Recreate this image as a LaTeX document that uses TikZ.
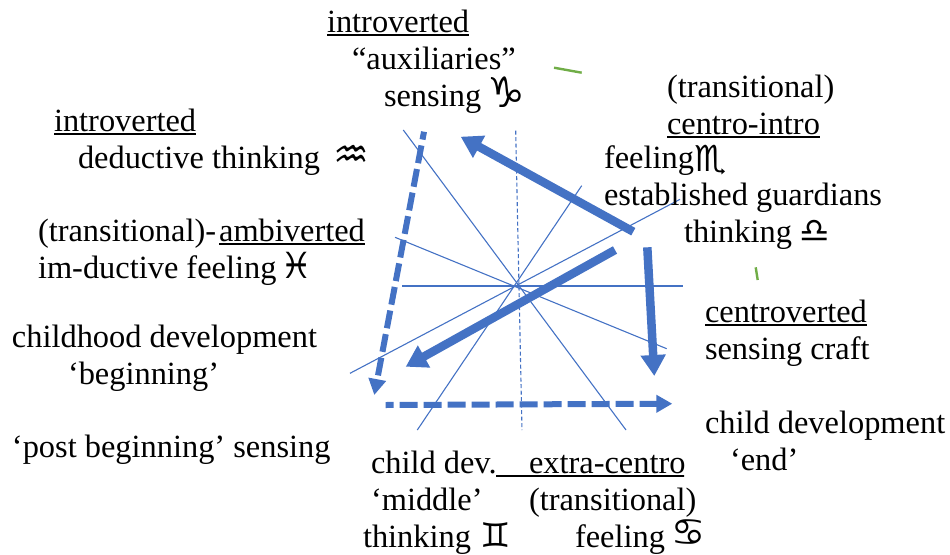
\documentclass[tikz,border=0pt]{standalone}
\usepackage{fontspec}
\setmainfont{Liberation Serif}
\newfontfamily\zodiac{DejaVu Sans}
\usetikzlibrary{arrows.meta}
\definecolor{wheel}{HTML}{4472C4}
\definecolor{tick}{HTML}{70AD47}
\newcommand\ulx[1]{\setbox0\hbox{#1}\rlap{\rule[-3.6pt]{\wd0}{1.8pt}}\box0}
\newcommand\zs[3]{{\zodiac\fontsize{#1}{#1}\selectfont\raisebox{#2pt}{#3}}}
\tikzset{
  lbl/.style={anchor=base west,inner sep=0pt,outer sep=0pt,font=\fontsize{32.4}{38}\selectfont},
  spoke/.style={draw=wheel,line width=1.1pt},
  spokedash/.style={spoke,dash pattern=on 4pt off 2.5pt},
  solidarrow/.style={draw=wheel,line width=8.5pt,-{Triangle[length=21pt,width=24pt]}},
  dasharrow/.style={draw=wheel,line width=6pt,dash pattern=on 18pt off 6pt,dash phase=10pt,-{Triangle[length=16pt,width=17pt]}},
  ticks/.style={draw=tick,line width=2.4pt}
}
\begin{document}
\begin{tikzpicture}[x=1pt,y=-1pt]
\useasboundingbox (0,0) rectangle (950,554);
% spokes
\coordinate (h1) at (402.3,286); \coordinate (h2) at (683.3,286);
\coordinate (v1) at (515.7,130.7); \coordinate (v2) at (522,430);
\coordinate (a1) at (403.3,130); \coordinate (a2) at (626,430);
\coordinate (b1) at (581.7,185.7); \coordinate (b2) at (417.3,430);
\coordinate (c1) at (395,237.3); \coordinate (c2) at (666.7,348.7);
\coordinate (d1) at (680,199.3); \coordinate (d2) at (350,373.3);
\draw[spoke] (h1) -- (h2);
\draw[spokedash] (v1) -- (v2);
\draw[spoke] (a1) -- (a2);
\draw[spoke] (b1) -- (b2);
\draw[spoke] (c1) -- (c2);
\draw[spoke] (d1) -- (d2);
% arrows
\coordinate (s1) at (633.3,231.7); \coordinate (s2) at (460.7,136.7);
\coordinate (s3) at (615,250); \coordinate (s4) at (405.7,366.7);
\coordinate (s5) at (647.3,247.3); \coordinate (s6) at (654.3,376);
\coordinate (t1) at (424,131.7); \coordinate (t2) at (374.3,395);
\coordinate (t3) at (385.7,405); \coordinate (t4) at (672.3,403.7);
\draw[solidarrow] (s1) -- (s2);
\draw[solidarrow] (s3) -- (s4);
\draw[solidarrow] (s5) -- (s6);
\draw[dasharrow] (t1) -- (t2);
\draw[dasharrow] (t3) -- (t4);
% green ticks
\coordinate (g1) at (554,67.7); \coordinate (g2) at (581.7,72.7);
\coordinate (g3) at (755.7,267.3); \coordinate (g4) at (757.7,280);
\draw[ticks] (g1) -- (g2);
\draw[ticks] (g3) -- (g4);
% labels
\node[lbl] (n1) at (327,32) {\ulx{introverted}};
\node[lbl] (n2) at (352,69) {“auxiliaries”};
\node[lbl] (n3) at (384,106) {sensing\hspace{6pt}\zs{42}{-1}{♑}};
\node[lbl] (n4) at (54,131) {\ulx{introverted}};
\node[lbl] (n5) at (78,168) {deductive thinking\hspace{13pt}\zs{40}{0}{♒}};
\node[lbl] (n6) at (38,241) {(transitional)-\hspace{3pt}\ulx{ambiverted}};
\node[lbl] (n7) at (38,278) {im-ductive feeling\hspace{4pt}\zs{36}{0}{♓}};
\node[lbl] (n8) at (12,347) {childhood development};
\node[lbl] (n9) at (68,384) {‘beginning’};
\node[lbl] (n10) at (12,457) {‘post beginning’ sensing};
\node[lbl] (n11) at (667,97) {(transitional)};
\node[lbl] (n12) at (667,134) {\ulx{centro-intro}};
\node[lbl] (n13) at (604,168) {feeling\hspace{1pt}\zs{36}{-3}{♏}};
\node[lbl] (n14) at (604,205) {established guardians};
\node[lbl] (n15) at (684,242) {thinking\hspace{7pt}\zs{34}{0}{♎}};
\node[lbl] (n16) at (705,322) {\ulx{centroverted}};
\node[lbl] (n17) at (705,359) {sensing craft};
\node[lbl] (n18) at (705,433) {child development};
\node[lbl] (n19) at (730,470) {‘end’};
\node[lbl] (n20) at (371,473) {child dev.};
\node[lbl] (n21) at (371,510) {‘middle’};
\node[lbl] (n22) at (363,547) {thinking\hspace{9pt}\zs{34}{0}{♊}};
\begin{scope}
\clip (490,440) rectangle (684,485);
\node[lbl] (n23) at (496,473) {\ulx{\hspace{33pt}extra-centro}};
\end{scope}
\node[lbl] (n24) at (529,510) {(transitional)};
\node[lbl] (n25) at (575,547) {feeling\hspace{7pt}\zs{38}{2}{♋}};
\end{tikzpicture}
\end{document}
